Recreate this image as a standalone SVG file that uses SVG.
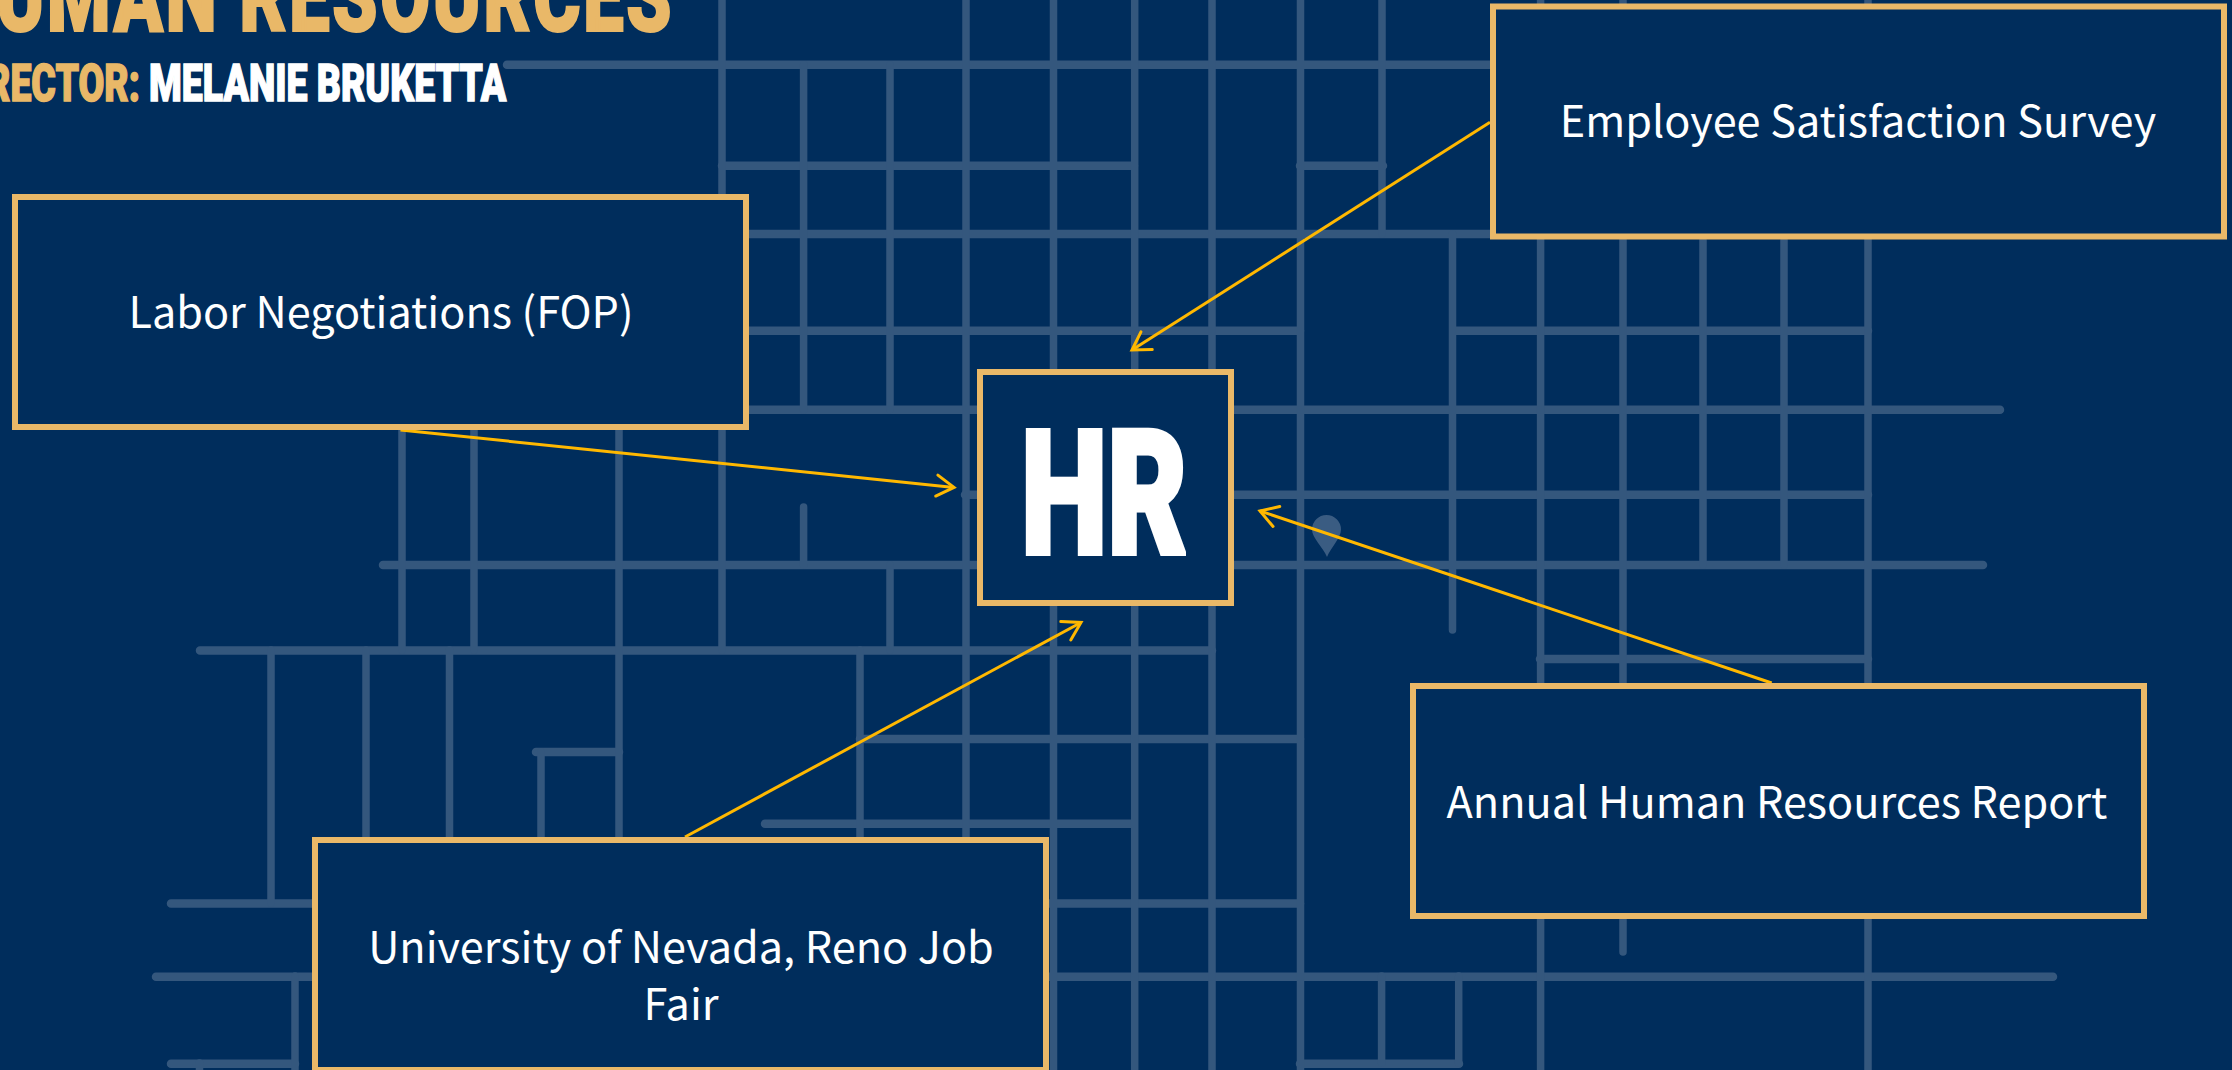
<svg xmlns="http://www.w3.org/2000/svg" width="2232" height="1070" viewBox="0 0 2232 1070">
<defs>
<style>
.road{stroke:#34577d;stroke-width:7.5;stroke-linecap:round;fill:none}
.h{stroke-width:8.5}
.box{fill:#002d5c;stroke:#e9b868;stroke-width:6}
.lbl{font-family:"Noto Sans CJK SC","Noto Sans",sans-serif;font-weight:400;font-size:43.2px;fill:#fff;text-anchor:middle}
.imp{font-family:Roboto,"Liberation Sans",sans-serif;font-weight:900;stroke-linejoin:miter}
.arrow{stroke:#ffb800;stroke-width:3;fill:none;marker-end:url(#ah)}
</style>
<marker id="ah" markerUnits="userSpaceOnUse" markerWidth="24" markerHeight="28" viewBox="-20 -13 24 26" refX="0" refY="0" orient="auto" overflow="visible">
<path d="M-17.3,-10.5L0,0L-17.3,10.5" fill="none" stroke="#ffb800" stroke-width="3" stroke-linecap="round"/>
</marker>
</defs>
<rect width="2232" height="1070" fill="#002d5c"/>
<g id="map">
<path class="road h" d="M507,64.7H1500M722,165.7H1134M1300,165.7H1383M722,234H1500M722,330.7H1300M1455,330.7H1868M722,409.7H2000M965,494.7H1868M383,565H1983M200,650.5H1212M1540,659H1868M860,739H1300M765,823.7H1133M171,903.5H1300M156,976.7H2053M171,1063.7H295M1300,1063.7H1459M536,752H619"/>
<path class="road" d="M722,0V650M803.6,64.7V409.7M803.6,507V565M890,64.7V409.7M890,565V650M966,0V1072M1053.5,0V1072M1134.7,0V1072M1212,0V1072M1300.5,0V1072M1382,0V234M1381.6,976V1063M1452.5,234V630M1540.6,0V1072M1623,0V952M1703,240V565M1784,240V565M1868,0V1072M1458.7,976V1063M860,650V850M271,650V903M366,650V850M449.5,650V850M541,752V850M619,420V850M402,430V650M474,430V650M295,976V1072M199.5,1063V1072"/>
<path id="pin" d="M1327,557C1323,547 1312,538 1312,529.5A14.5,14.5 0 0 1 1341,529.5C1341,538 1331,547 1327,557Z" fill="#3a5c82"/>
</g>
<g id="title">
<text class="imp" transform="translate(-4 30.5) scale(0.73 1)" font-size="100" fill="#e9b868" stroke="#e9b868" stroke-width="2" letter-spacing="3">UMAN RESOURCES</text>
<text class="imp" transform="translate(-14 100.5) scale(0.72 1)" font-size="52" fill="#e9b868" stroke="#e9b868" stroke-width="1.5">RECTOR:</text>
<text class="imp" transform="translate(149 100.5) scale(0.72 1)" font-size="52" fill="#fff" stroke="#fff" stroke-width="1.5">MELANIE BRUKETTA</text>
</g>
<g id="connectors">
<path class="arrow" d="M400.5,430L954,487.4"/>
<path class="arrow" d="M1490,122.3L1132,350"/>
<path class="arrow" d="M1771.7,683L1260,511"/>
<path class="arrow" d="M685,837L1081,622.5"/>
</g>
<g id="node-labor"><rect class="box" x="15" y="197" width="731" height="230"/><text class="lbl" x="381" y="328">Labor Negotiations (FOP)</text></g>
<g id="node-hr"><rect class="box" x="980" y="372" width="251" height="231"/><text class="imp" transform="translate(1021 553) scale(0.71 1)" font-size="173" fill="#fff" stroke="#fff" stroke-width="5">HR</text></g>
<g id="node-survey"><rect class="box" x="1493" y="6.5" width="731" height="230"/><text class="lbl" x="1858" y="137">Employee Satisfaction Survey</text></g>
<g id="node-report"><rect class="box" x="1413" y="686" width="731" height="230"/><text class="lbl" x="1777" y="818">Annual Human Resources Report</text></g>
<g id="node-job-fair"><rect class="box" x="315" y="840" width="731" height="230"/><text class="lbl" x="681" y="963">University of Nevada, Reno Job</text><text class="lbl" x="681" y="1019.5">Fair</text></g>
</svg>
